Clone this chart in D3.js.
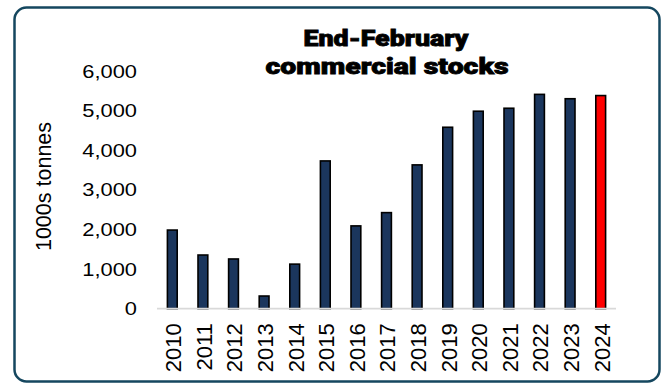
<!DOCTYPE html>
<html>
<head>
<meta charset="utf-8">
<script src="https://cdn.jsdelivr.net/npm/d3@7"></script>
<style>
  html, body { margin: 0; padding: 0; background: #ffffff; }
  svg { display: block; }
</style>
</head>
<body>
<svg id="chart" width="666" height="383"></svg>
<script>
// End-February commercial stocks, thousand tonnes
const years = ["2010","2011","2012","2013","2014","2015","2016","2017","2018","2019","2020","2021","2022","2023","2024"];
const stocks = [1985, 1355, 1255, 320, 1125, 3730, 2090, 2425, 3630, 4580, 4985, 5060, 5410, 5300, 5380];
const yTicks = [0, 1000, 2000, 3000, 4000, 5000, 6000];
const titleLines = ["End-February", "commercial stocks"];
const yTitle = "1000s tonnes";

const svg = d3.select("#chart");

// rounded outer frame
svg.append("rect")
  .attr("x", 14.5).attr("y", 7.5)
  .attr("width", 645).attr("height", 374)
  .attr("rx", 12).attr("ry", 12)
  .attr("fill", "#ffffff")
  .attr("stroke", "#15475f")
  .attr("stroke-width", 2.5);

const x = d3.scaleBand()
  .domain(years)
  .range([157, 616])
  .paddingInner(0.68)
  .paddingOuter(0.34);

const y = d3.scaleLinear()
  .domain([0, 6000])
  .range([308.7, 71]);

// title
const title = svg.append("text")
  .attr("text-anchor", "middle")
  .attr("font-family", "Roboto, Inter, 'Liberation Sans', sans-serif")
  .attr("font-weight", 900)
  .attr("font-size", 22)
  .attr("fill", "#000")
  .attr("stroke", "#000")
  .attr("stroke-width", 0.8);
title.append("tspan").attr("x", 386).attr("y", 46)
  .attr("textLength", 165).attr("lengthAdjust", "spacingAndGlyphs")
  .text(titleLines[0]);
title.append("tspan").attr("x", 387).attr("y", 73.5)
  .attr("textLength", 243).attr("lengthAdjust", "spacingAndGlyphs")
  .text(titleLines[1]);

// y axis (labels only)
const yAxis = svg.append("g")
  .attr("transform", "translate(157,0)")
  .call(d3.axisLeft(y).tickValues(yTicks).tickFormat(d3.format(",")).tickSize(0).tickPadding(20));
yAxis.select(".domain").remove();
const sx = 1.15;
yAxis.selectAll("text")
  .attr("font-family", "'Liberation Sans', Arial, sans-serif")
  .attr("font-size", 19)
  .attr("fill", "#000")
  .attr("x", -20 / sx)
  .attr("transform", `scale(${sx},1)`);

// y axis title
svg.append("text")
  .attr("transform", "translate(50.5,186.5) rotate(-90)")
  .attr("text-anchor", "middle")
  .attr("font-family", "'Liberation Sans', Arial, sans-serif")
  .attr("font-size", 21.5)
  .attr("fill", "#000")
  .text(yTitle);

// bars
svg.append("g").selectAll("rect")
  .data(years.map((yr, i) => ({ yr, v: stocks[i] })))
  .join("rect")
  .attr("x", d => x(d.yr))
  .attr("y", d => y(d.v))
  .attr("width", x.bandwidth())
  .attr("height", d => y(0) - y(d.v))
  .attr("fill", d => d.yr === "2024" ? "#ff0000" : "#1b365d")
  .attr("stroke", "#000")
  .attr("stroke-width", 1.6);

// baseline
svg.append("line")
  .attr("x1", 157).attr("x2", 616)
  .attr("y1", y(0)).attr("y2", y(0))
  .attr("stroke", "#d9d9d9")
  .attr("stroke-width", 1.8);

// x axis labels, rotated
const xAxis = svg.append("g")
  .attr("transform", `translate(0,${y(0)})`)
  .call(d3.axisBottom(x).tickSize(0).tickPadding(0));
xAxis.select(".domain").remove();
xAxis.selectAll("text")
  .attr("font-family", "'Liberation Sans', Arial, sans-serif")
  .attr("font-size", 22)
  .attr("fill", "#000")
  .attr("text-anchor", "end")
  .attr("x", 0).attr("y", 0)
  .attr("dy", "0.38em")
  .attr("transform", "translate(0.5,14.5) rotate(-90)");
</script>
</body>
</html>
